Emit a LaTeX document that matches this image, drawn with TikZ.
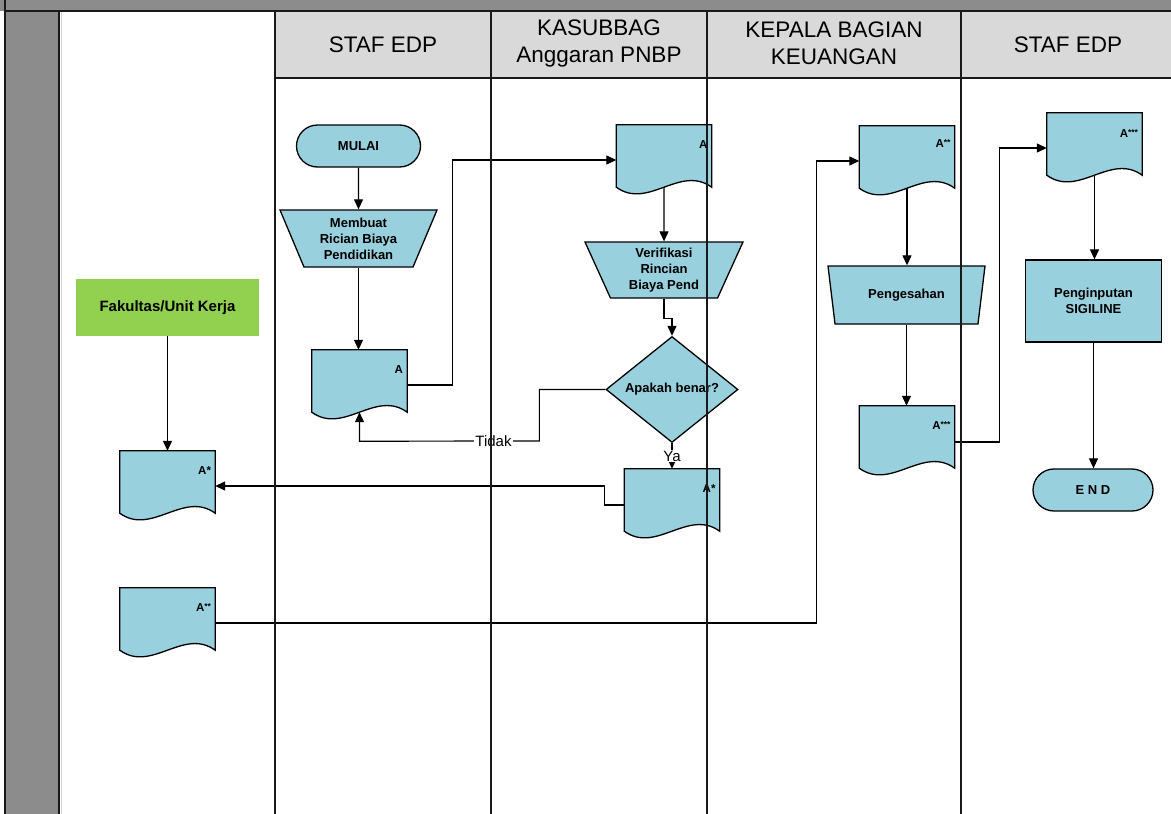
\documentclass[tikz,border=0pt]{standalone}
\usepackage{fontspec}
\setmainfont{Liberation Sans}
\usetikzlibrary{arrows.meta,calc,shapes.geometric}
\definecolor{shapeblue}{RGB}{153,208,221}
\definecolor{fakgreen}{RGB}{146,208,80}
\definecolor{hdrgray}{RGB}{217,217,217}
\definecolor{poolgray}{RGB}{140,140,140}
\definecolor{darkline}{RGB}{25,25,25}
\newcommand{\smallstars}[1]{{\fontsize{8.5}{8.5}\selectfont\raisebox{2.5pt}{#1}}}

\begin{document}
\begin{tikzpicture}[x=1pt,y=-1pt,
  shapestyle/.style={draw=black, fill=shapeblue, line width=1.3pt},
  docbox/.style={rectangle, draw=none, minimum width=95, minimum height=62, inner sep=0},
  docpath/.style={insert path={(#1.north west) -- (#1.north east) -- (#1.south east)
      .. controls ($(#1.south east)+(-31.7,-23)$) and ($(#1.south west)+(31.7,23)$) .. (#1.south west) -- cycle}},
  doclabel/.style={anchor=east, inner sep=0, font=\fontsize{11.5}{12}\selectfont\bfseries},
  trapbox/.style={trapezium, shape border rotate=180, trapezium angle=60, trapezium stretches body,
      draw=black, fill=shapeblue, line width=1.3pt, inner sep=0, align=center, font=\fontsize{13}{16}\selectfont\bfseries},
  diabox/.style={diamond, draw=black, fill=shapeblue, line width=1.3pt, inner sep=0, minimum width=132, minimum height=85, font=\fontsize{13}{16}\selectfont\bfseries},
  termbox/.style={rectangle, rounded corners=21, draw=black, line width=1.3pt, fill=shapeblue, minimum height=42, inner sep=0, font=\fontsize{13}{16}\selectfont\bfseries},
  procbox/.style={rectangle, draw=black, line width=1.3pt, fill=shapeblue, align=center, inner sep=0, font=\fontsize{13}{16}\selectfont\bfseries},
  greenbox/.style={rectangle, fill=fakgreen, draw=none, inner sep=0, font=\fontsize{15}{18}\selectfont\bfseries},
  hdrtext/.style={align=center, inner sep=0, font=\fontsize{22.5}{27}\selectfont},
  lbl/.style={fill=white, inner sep=1, font=\fontsize{15}{18}\selectfont},
  arr/.style={draw=black, line width=1.2pt, -{Triangle[length=10pt,width=9pt]}},
  lane/.style={draw=darkline, line width=1.6pt}
]
\useasboundingbox (0,0) rectangle (1171,814);

% background: pool and header
\fill[white] (0,0) rectangle (1171,814);
\fill[poolgray] (0,0) rectangle (1171,11);
\fill[poolgray] (5,11) rectangle (59,814);
\fill[hdrgray] (275,11) rectangle (1171,78);
\draw[gray!35, line width=1pt] (61,11) -- (61,814);

% header texts
\node[hdrtext] (h1) at (383,45) {STAF EDP};
\node[hdrtext] (h2) at (599,43) {KASUBBAG\\Anggaran PNBP};
\node[hdrtext] (h3) at (834,43) {KEPALA BAGIAN\\KEUANGAN};
\node[hdrtext] (h4) at (1068,45) {STAF EDP};

% lane 1: Fakultas / Unit Kerja
\node[greenbox, minimum width=183, minimum height=57] (fak) at (167.5,307.5) {Fakultas/Unit Kerja};
\node[docbox] (dF1) at (167.5,482) {};
\filldraw[shapestyle, docpath=dF1];
\node[doclabel] (dF1l) at ($(dF1.north east)+(-4,20)$) {A*};
\node[docbox] (dF2) at (167.5,619) {};
\filldraw[shapestyle, docpath=dF2];
\node[doclabel] (dF2l) at ($(dF2.north east)+(-4,20)$) {A\smallstars{**}};

% lane 2: STAF EDP
\node[termbox, minimum width=124] (mulai) at (358.5,146) {MULAI};
\node[trapbox, minimum width=157, minimum height=57] (t1) at (358.5,238.5) {Membuat\\Rician Biaya\\Pendidikan};
\node[docbox] (dA1) at (359.5,381) {};
\filldraw[shapestyle, docpath=dA1];
\node[doclabel] (dA1l) at ($(dA1.north east)+(-4,20)$) {A};

% lane 3: KASUBBAG
\node[docbox] (dA2) at (664,156) {};
\filldraw[shapestyle, docpath=dA2];
\node[doclabel] (dA2l) at ($(dA2.north east)+(-4,20)$) {A};
\node[trapbox, minimum width=158, minimum height=56] (t2) at (664,270) {Verifikasi\\Rincian\\Biaya Pend};
\node[diabox] (dia) at (672,389.5) {Apakah benar?};
\node[docbox] (dA3) at (672,500) {};
\filldraw[shapestyle, docpath=dA3];
\node[doclabel] (dA3l) at ($(dA3.north east)+(-4,20)$) {A*};

% lane 4: KEPALA BAGIAN KEUANGAN
\node[docbox] (dK1) at (907,157) {};
\filldraw[shapestyle, docpath=dK1];
\node[doclabel] (dK1l) at ($(dK1.north east)+(-4,18)$) {A\smallstars{**}};
\node[trapbox, minimum width=157, minimum height=58] (t3) at (906.5,295) {Pengesahan};
\node[docbox] (dK2) at (907,437) {};
\filldraw[shapestyle, docpath=dK2];
\node[doclabel] (dK2l) at ($(dK2.north east)+(-4,20)$) {A\smallstars{***}};

% lane 5: STAF EDP
\node[docbox] (dE) at (1094.5,144) {};
\filldraw[shapestyle, docpath=dE];
\node[doclabel] (dEl) at ($(dE.north east)+(-4,21)$) {A\smallstars{***}};
\node[procbox, minimum width=136, minimum height=82] (inp) at (1093.5,301) {Penginputan\\SIGILINE};
\node[termbox, minimum width=120] (fin) at (1093,490) {E N D};

% connectors
\draw[arr] (mulai.south) -- (t1.north);
\draw[arr] (t1.south) -- (t1.south |- dA1.north);
\draw[arr] ($(dA1.east)+(0,4)$) -- ++(45,0) |- ($(dA2.west)+(0,4)$);
\draw[arr] (dA2.south) -- (t2.north);
\draw[arr] (t2.south) -- ++(0,20) -| (dia.north);
\draw[arr] (dia.south) -- node[lbl] (ya) {Ya} (dia.south |- dA3.north);
\draw[arr] (dia.west) -- ++(-66,0) -- ++(0,51.5)
  -- node[lbl, pos=0.255] (tidak) {Tidak} ($(dA1.south)+(0,29)$) -- (dA1.south);
\draw[arr] ($(dA3.west)+(0,5)$) -- ++(-20,0) |- ($(dF1.east)+(0,4)$);
\draw[arr] (fak.south) -- (fak.south |- dF1.north);
\draw[arr] ($(dF2.east)+(0,4)$) -| ($(dK1.west)+(-42.5,4)$) -- ($(dK1.west)+(0,4)$);
\draw[arr] (dK1.south) -- (dK1.south |- t3.north);
\draw[arr] (t3.south) -- (t3.south |- dK2.north);
\draw[arr] ($(dK2.east)+(0,5)$) -- ++(45,0) |- ($(dE.west)+(0,4)$);
\draw[arr] (dE.south) -- (dE.south |- inp.north);
\draw[arr] (inp.south) -- (inp.south |- fin.north);

% lane lines and frame on top
\draw[lane] (5,11) -- (1171,11);
\draw[lane] (5,0) -- (5,814);
\draw[lane] (59,11) -- (59,814);
\draw[lane] (275,78) -- (1171,78);
\foreach \lx in {275,491,707,961}{
  \draw[lane] (\lx,11) -- (\lx,814);
}
\end{tikzpicture}
\end{document}
